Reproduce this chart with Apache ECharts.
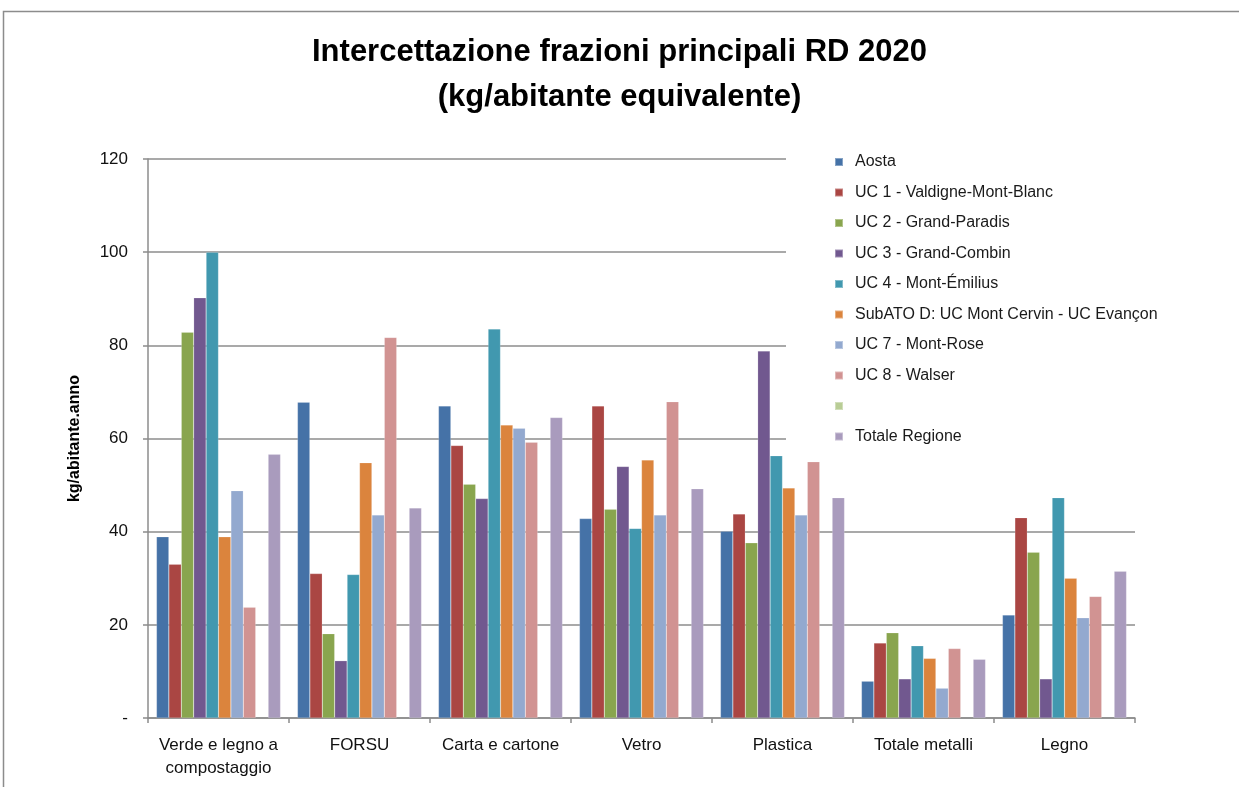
<!DOCTYPE html>
<html>
<head>
<meta charset="utf-8">
<script src="https://cdn.jsdelivr.net/npm/echarts@6/dist/echarts.min.js"></script>
<style>
  html, body { margin: 0; padding: 0; background: #fff; }
  #chart { width: 1239px; height: 787px; }
</style>
</head>
<body>
<div id="chart"></div>
<script>
// categorie (frazioni)
const categories = ['Verde e legno a\ncompostaggio', 'FORSU', 'Carta e cartone', 'Vetro', 'Plastica', 'Totale metalli', 'Legno'];

// valori kg/abitante equivalente per ogni serie
const aosta   = [38.9, 67.8, 67.0, 42.8, 40.1, 7.9, 22.1];
const uc1     = [33.0, 31.0, 58.5, 67.0, 43.8, 16.1, 43.0];
const uc2     = [82.8, 18.1, 50.2, 44.8, 37.6, 18.3, 35.6];
const uc3     = [90.2, 12.3, 47.1, 54.0, 78.8, 8.4, 8.4];
const uc4     = [100.0, 30.8, 83.5, 40.7, 56.3, 15.5, 47.3];
const subatoD = [38.9, 54.8, 62.9, 55.4, 49.4, 12.8, 30.0];
const uc7     = [48.8, 43.6, 62.2, 43.6, 43.6, 6.4, 21.5];
const uc8     = [23.8, 81.7, 59.2, 67.9, 55.0, 14.9, 26.1];
const vuota   = [];
const totale  = [56.6, 45.1, 64.5, 49.2, 47.3, 12.6, 31.5];

const seriesNames = [
  'Aosta',
  'UC 1 - Valdigne-Mont-Blanc',
  'UC 2 - Grand-Paradis',
  'UC 3 - Grand-Combin',
  'UC 4 - Mont-Émilius',
  'SubATO D: UC Mont Cervin - UC Evançon',
  'UC 7 - Mont-Rose',
  'UC 8 - Walser',
  ' ',
  'Totale Regione'
];
const seriesValues = [aosta, uc1, uc2, uc3, uc4, subatoD, uc7, uc8, vuota, totale];
const colors = ['#4572A7', '#AA4643', '#89A54E', '#71588F', '#4198AF', '#DB843D', '#93A9CF', '#D19392', '#B9CD96', '#A99BBD'];

const yTicks = [0, 20, 40, 60, 80, 100, 120];

const FONT = 'Liberation Sans';

const chart = echarts.init(document.getElementById('chart'), null, { renderer: 'canvas' });

const option = {
  backgroundColor: '#fff',
  animation: false,
  color: colors,
  title: {
    text: 'Intercettazione frazioni principali RD 2020\n(kg/abitante equivalente)',
    left: 'center',
    top: 25,
    padding: [5, 0, 5, 21],
    textStyle: {
      fontFamily: FONT,
      fontSize: 31,
      fontWeight: 'bold',
      lineHeight: 45,
      color: '#000'
    }
  },
  graphic: [
    {
      type: 'rect',
      shape: { x: 3.5, y: 11.5, width: 1300, height: 800 },
      style: { fill: 'none', stroke: '#8c8c8c', lineWidth: 1.5 },
      silent: true
    }
  ],
  legend: {
    orient: 'vertical',
    left: 786,
    top: 149,
    padding: [5, 30, 10, 48],
    backgroundColor: '#fff',
    itemWidth: 8,
    itemHeight: 8,
    itemGap: 14.5,
    icon: 'rect',
    data: seriesNames,
    textStyle: { fontFamily: FONT, fontSize: 16, color: '#1a1a1a', padding: [0, 0, 0, 7] },
    z: 10
  },
  grid: {
    left: 148,
    right: 104,
    top: 159,
    bottom: 69,
    containLabel: false
  },
  xAxis: {
    type: 'category',
    data: categories,
    axisLine: { lineStyle: { color: '#8c8c8c', width: 1.5 } },
    axisTick: { show: true, length: 5, lineStyle: { color: '#8c8c8c', width: 1.5 } },
    axisLabel: {
      fontFamily: FONT,
      fontSize: 17,
      color: '#111',
      margin: 16,
      lineHeight: 23,
      interval: 0
    }
  },
  yAxis: {
    type: 'value',
    min: 0,
    max: 120,
    interval: 20,
    name: 'kg/abitante.anno',
    nameLocation: 'middle',
    nameGap: 65,
    nameRotate: 90,
    nameTextStyle: { fontFamily: FONT, fontSize: 16, fontWeight: 'bold', color: '#000' },
    axisLine: { show: true, lineStyle: { color: '#8c8c8c', width: 1.5 } },
    axisTick: { show: true, length: 5, lineStyle: { color: '#8c8c8c', width: 1.5 } },
    splitLine: { lineStyle: { color: '#8c8c8c', width: 1.5 } },
    axisLabel: {
      fontFamily: FONT,
      fontSize: 17,
      color: '#111',
      margin: 20,
      formatter: function (v) {
        return v === yTicks[0] ? '-' : String(v);
      }
    }
  },
  series: seriesNames.map(function (name, i) {
    return {
      name: name,
      type: 'bar',
      data: seriesValues[i],
      barGap: '0%',
      barCategoryGap: '12%',
      itemStyle: { color: colors[i], borderColor: 'rgba(255,255,255,0.35)', borderWidth: 0.5 }
    };
  })
};

chart.setOption(option);
</script>
</body>
</html>
